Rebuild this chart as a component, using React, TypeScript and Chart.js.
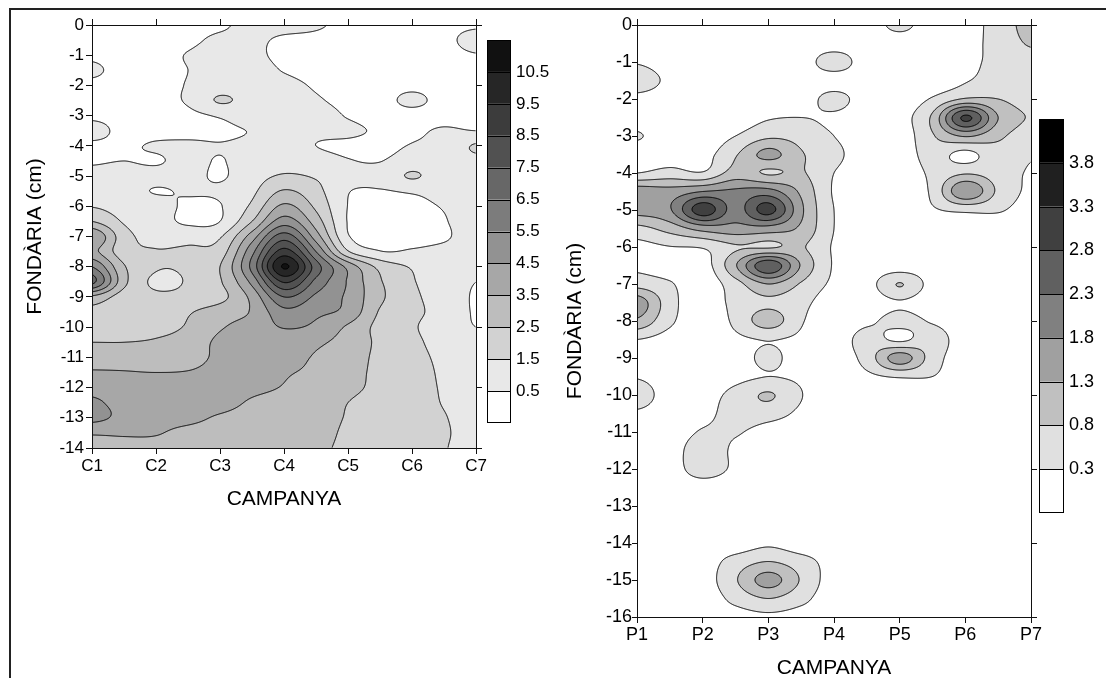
import React, { useEffect, useRef } from 'react';
import { Chart, registerables } from 'chart.js';

Chart.register(...registerables);

const FONT = "'Liberation Sans', Arial, sans-serif";
const AXIS_COLOR = '#111';

// ---- categories / titles ----
const CAMPAIGNS_LEFT = ['C1', 'C2', 'C3', 'C4', 'C5', 'C6', 'C7'];
const CAMPAIGNS_RIGHT = ['P1', 'P2', 'P3', 'P4', 'P5', 'P6', 'P7'];
const X_TITLE = 'CAMPANYA';
const Y_TITLE = 'FONDÀRIA (cm)';
const DEPTH_MIN_LEFT = -14;
const DEPTH_MIN_RIGHT = -16;

// ---- contour levels (colour-bar labels) ----
const LEVELS_LEFT = [0.5, 1.5, 2.5, 3.5, 4.5, 5.5, 6.5, 7.5, 8.5, 9.5, 10.5];
const LEVELS_RIGHT = [0.3, 0.8, 1.3, 1.8, 2.3, 2.8, 3.3, 3.8];

// ---- grid node positions (campaign, depth) ----
const GRID_X_LEFT = [1, 1.5, 2, 2.5, 3, 3.5, 4, 4.5, 5, 5.5, 6, 6.5, 7];
const GRID_X_RIGHT = [1, 1.5, 2, 2.5, 3, 3.5, 4, 4.5, 5, 5.5, 6, 6.5, 7];
const GRID_DEPTH_LEFT = [0, -0.5, -1, -1.5, -2, -2.5, -3, -3.5, -4, -4.5, -5, -5.5, -6, -6.5, -7, -7.5, -8, -8.5, -9, -9.5, -10, -10.5, -11, -11.5, -12, -12.5, -13, -13.5, -14];
const GRID_DEPTH_RIGHT = [0, -0.5, -1, -1.5, -2, -2.5, -3, -3.5, -4, -4.5, -5, -5.5, -6, -6.5, -7, -7.5, -8, -8.5, -9, -9.5, -10, -10.5, -11, -11.5, -12, -12.5, -13, -13.5, -14, -14.5, -15, -15.5, -16];

// ---- measured values, rows = depth, columns = campaign (C1 .. C7, half steps) ----
const LEFT_Z = [
  [0.2, 0.2, 0.2, 0.2, 0.35, 0.8, 0.8, 0.6, 0.3, 0.2, 0.2, 0.3, 0.4],
  [0.2, 0.2, 0.2, 0.3, 0.7, 0.7, 0.35, 0.3, 0.2, 0.2, 0.2, 0.3, 0.8],
  [0.35, 0.2, 0.2, 0.55, 0.9, 0.7, 0.3, 0.2, 0.2, 0.2, 0.2, 0.25, 0.45],
  [0.65, 0.2, 0.2, 0.5, 0.9, 0.9, 0.45, 0.2, 0.15, 0.15, 0.2, 0.2, 0.2],
  [0.3, 0.2, 0.25, 0.55, 1.0, 1.0, 0.8, 0.4, 0.2, 0.2, 0.3, 0.2, 0.2],
  [0.2, 0.2, 0.3, 0.6, 1.6, 1.1, 1.0, 0.6, 0.3, 0.2, 0.7, 0.2, 0.2],
  [0.3, 0.2, 0.2, 0.3, 0.6, 1.0, 1.0, 0.8, 0.45, 0.2, 0.2, 0.2, 0.2],
  [0.9, 0.2, 0.2, 0.2, 0.3, 0.55, 0.8, 0.7, 0.65, 0.4, 0.35, 0.6, 0.5],
  [0.3, 0.35, 0.6, 0.7, 0.55, 0.75, 0.9, 0.5, 0.35, 0.3, 0.55, 0.8, 1.6],
  [0.4, 0.5, 0.4, 0.8, 0.45, 1.0, 1.2, 0.9, 0.55, 0.48, 0.9, 1.0, 1.2],
  [0.8, 0.9, 0.8, 0.8, 0.4, 1.1, 1.6, 1.4, 0.9, 0.8, 1.6, 0.9, 0.8],
  [0.9, 0.85, 0.45, 0.6, 0.65, 1.3, 2.6, 1.8, 0.55, 0.45, 0.6, 0.75, 0.8],
  [1.45, 1.1, 0.9, 0.35, 0.45, 1.7, 3.7, 2.3, 0.48, 0.25, 0.3, 0.55, 0.8],
  [2.5, 1.4, 0.9, 0.35, 0.5, 2.5, 5.0, 3.0, 0.45, 0.2, 0.2, 0.45, 0.9],
  [4.5, 1.9, 1.2, 1.1, 1.4, 4.0, 7.0, 4.0, 0.6, 0.2, 0.25, 0.4, 0.9],
  [3.8, 1.9, 1.55, 1.7, 2.0, 5.2, 8.9, 5.5, 1.6, 0.55, 0.6, 0.7, 0.8],
  [5.5, 2.6, 1.6, 1.7, 2.5, 5.8, 10.6, 7.0, 4.2, 2.2, 1.4, 0.8, 0.6],
  [6.8, 2.8, 1.3, 1.6, 2.4, 4.8, 8.6, 6.2, 4.4, 2.6, 1.6, 0.9, 0.5],
  [3.3, 2.0, 1.7, 1.8, 2.2, 3.8, 6.5, 5.3, 4.3, 2.7, 1.7, 1.1, 0.4],
  [2.2, 2.0, 1.9, 2.4, 3.0, 3.6, 5.2, 4.7, 4.2, 2.4, 1.7, 1.2, 0.4],
  [2.0, 2.1, 2.2, 2.6, 3.4, 3.9, 4.55, 4.3, 3.35, 2.2, 1.6, 1.1, 0.5],
  [2.5, 2.5, 2.6, 2.9, 3.7, 3.9, 4.1, 3.7, 3.1, 2.3, 1.7, 1.2, 0.9],
  [3.0, 3.0, 2.9, 3.1, 3.7, 3.9, 3.9, 3.4, 2.9, 2.3, 1.8, 1.3, 1.0],
  [3.6, 3.55, 3.5, 3.55, 3.8, 3.9, 3.6, 3.3, 2.8, 2.3, 1.9, 1.35, 1.0],
  [4.1, 3.8, 3.8, 3.9, 3.9, 3.7, 3.45, 3.1, 2.7, 2.3, 1.9, 1.4, 1.0],
  [4.7, 4.1, 3.9, 3.9, 3.8, 3.4, 3.2, 2.9, 2.5, 2.2, 1.9, 1.45, 1.1],
  [4.8, 4.2, 3.8, 3.7, 3.4, 3.2, 3.1, 2.8, 2.45, 2.2, 1.9, 1.55, 1.1],
  [3.6, 3.6, 3.55, 3.3, 3.2, 3.1, 3.0, 2.7, 2.4, 2.1, 1.85, 1.6, 1.1],
  [3.2, 3.3, 3.3, 3.2, 3.1, 3.0, 2.9, 2.6, 2.4, 2.1, 1.8, 1.55, 1.1],
];

// rows = depth, columns = campaign (P1 .. P7, half steps)
const RIGHT_Z = [
  [0, 0, 0, 0, 0, 0, 0, 0, 0.45, 0, 0.1, 0.5, 1.0],
  [0, 0, 0, 0, 0, 0, 0, 0, 0, 0, 0.1, 0.5, 0.85],
  [0.25, 0, 0, 0, 0, 0, 0.6, 0, 0, 0, 0.1, 0.5, 0.6],
  [0.7, 0.15, 0, 0, 0, 0, 0, 0, 0, 0, 0.25, 0.6, 0.6],
  [0.1, 0, 0, 0, 0, 0, 0.5, 0, 0, 0.35, 0.85, 0.8, 0.6],
  [0, 0, 0, 0, 0.25, 0.3, 0.2, 0, 0.1, 0.9, 2.9, 1.3, 0.75],
  [0.35, 0, 0, 0.3, 0.7, 0.6, 0.3, 0, 0, 0.75, 1.35, 0.9, 0.55],
  [0, 0, 0.1, 0.75, 1.45, 0.85, 0.45, 0, 0, 0.5, 0.15, 0.6, 0.35],
  [0.3, 0.5, 0.35, 1.0, 0.75, 0.85, 0.3, 0, 0, 0.4, 0.75, 0.55, 0.25],
  [1.6, 1.5, 1.8, 1.9, 2.0, 1.2, 0.25, 0, 0, 0.4, 1.75, 0.7, 0.2],
  [1.5, 1.75, 3.1, 2.1, 3.0, 1.4, 0.3, 0, 0, 0.25, 0.4, 0.35, 0.1],
  [0.65, 1.0, 1.5, 1.6, 1.6, 1.2, 0.3, 0, 0, 0, 0.05, 0.05, 0],
  [0.15, 0.28, 0.35, 0.75, 0.75, 0.85, 0.25, 0, 0, 0, 0, 0, 0],
  [0.2, 0.05, 0.05, 1.25, 2.7, 1.25, 0.25, 0, 0, 0, 0, 0, 0],
  [0.6, 0.35, 0, 0.6, 1.3, 0.75, 0.2, 0.1, 0.82, 0.1, 0, 0, 0],
  [1.6, 0.5, 0, 0.45, 0.7, 0.45, 0, 0, 0.25, 0, 0, 0, 0],
  [1.2, 0.4, 0, 0.4, 1.05, 0.35, 0, 0.2, 0.45, 0.25, 0, 0, 0],
  [0.3, 0.1, 0, 0.2, 0.32, 0.2, 0, 0.5, 0.2, 0.55, 0, 0, 0],
  [0, 0, 0, 0, 0.45, 0, 0, 0.5, 1.55, 0.55, 0, 0, 0],
  [0.25, 0, 0, 0.15, 0.3, 0.2, 0, 0.2, 0.35, 0.3, 0, 0, 0],
  [0.65, 0, 0.1, 0.45, 0.85, 0.32, 0, 0, 0, 0, 0, 0, 0],
  [0.2, 0, 0.15, 0.5, 0.5, 0.2, 0, 0, 0, 0, 0, 0, 0],
  [0, 0, 0.35, 0.35, 0.1, 0, 0, 0, 0, 0, 0, 0, 0],
  [0, 0.05, 0.6, 0.2, 0, 0, 0, 0, 0, 0, 0, 0, 0],
  [0, 0.05, 0.55, 0.2, 0, 0, 0, 0, 0, 0, 0, 0, 0],
  [0, 0, 0.05, 0, 0, 0, 0, 0, 0, 0, 0, 0, 0],
  [0, 0, 0, 0, 0, 0, 0, 0, 0, 0, 0, 0, 0],
  [0, 0, 0, 0, 0, 0, 0, 0, 0, 0, 0, 0, 0],
  [0, 0, 0, 0, 0.2, 0, 0, 0, 0, 0, 0, 0, 0],
  [0, 0, 0.05, 0.5, 0.8, 0.5, 0.1, 0, 0, 0, 0, 0, 0],
  [0, 0, 0.05, 0.75, 1.5, 0.75, 0.05, 0, 0, 0, 0, 0, 0],
  [0, 0, 0, 0.45, 0.8, 0.45, 0, 0, 0, 0, 0, 0, 0],
  [0, 0, 0, 0.1, 0.2, 0.1, 0, 0, 0, 0, 0, 0, 0],
];

// ---- styles ----
const GRAYS_LEFT = ['#ffffff', '#e8e8e8', '#d2d2d2', '#bdbdbd', '#a7a7a7', '#929292', '#7c7c7c', '#676767', '#515151', '#3c3c3c', '#262626', '#111111'];
const GRAYS_RIGHT = ['#ffffff', '#e0e0e0', '#c0c0c0', '#a0a0a0', '#808080', '#606060', '#404040', '#202020', '#000000'];

const LEFT_SPEC = {
  canvasLeft: 0, width: 560, height: 520,
  categories: CAMPAIGNS_LEFT, depthMin: DEPTH_MIN_LEFT,
  gridX: GRID_X_LEFT, gridDepth: GRID_DEPTH_LEFT, z: LEFT_Z,
  levels: LEVELS_LEFT, colors: GRAYS_LEFT,
  leftW: 92, rightW: 84, topH: 25, bottomH: 72,
  tickSize: 17, titleSize: 21, yTickLen: 6, yTickPad: 2, xTickLen: 6, xTickPad: 2,
  yTitlePad: 23, xTitlePad: 8,
  colorbar: { left: 487, width: 24, top: 40, bottom: 423, labelX: 516, fontSize: 17 },
};

const RIGHT_SPEC = {
  canvasLeft: 560, width: 546, height: 690,
  categories: CAMPAIGNS_RIGHT, depthMin: DEPTH_MIN_RIGHT,
  gridX: GRID_X_RIGHT, gridDepth: GRID_DEPTH_RIGHT, z: RIGHT_Z,
  levels: LEVELS_RIGHT, colors: GRAYS_RIGHT,
  leftW: 77, rightW: 75, topH: 25, bottomH: 73,
  tickSize: 18, titleSize: 21, yTickLen: 5, yTickPad: 0, xTickLen: 6, xTickPad: 1,
  yTitlePad: 3, xTitlePad: 9,
  colorbar: { left: 479, width: 25, top: 119, bottom: 513, labelX: 509, fontSize: 18 },
};

// ---- helpers ----
function cr(p0: number, p1: number, p2: number, p3: number, t: number) {
  return p1 + 0.5 * t * (p2 - p0 + t * (2 * p0 - 5 * p1 + 4 * p2 - p3 + t * (3 * (p1 - p2) + p3 - p0)));
}

function bicubic(Z: number[][], fx: number, fy: number) {
  const rows = Z.length, cols = Z[0].length;
  let i = Math.floor(fx), j = Math.floor(fy);
  if (i < 0) i = 0; if (i > cols - 2) i = cols - 2;
  if (j < 0) j = 0; if (j > rows - 2) j = rows - 2;
  let tx = fx - i, ty = fy - j;
  tx = Math.max(0, Math.min(1, tx)); ty = Math.max(0, Math.min(1, ty));
  const im = Math.max(0, i - 1), ip = Math.min(cols - 1, i + 2);
  const r: number[] = [0, 0, 0, 0];
  for (let k = 0; k < 4; k++) {
    const rr = Math.min(rows - 1, Math.max(0, j - 1 + k));
    const row = Z[rr];
    r[k] = cr(row[im], row[i], row[i + 1], row[ip], tx);
  }
  return cr(r[0], r[1], r[2], r[3], ty);
}

function hexToRgb(h: string) {
  const n = parseInt(h.slice(1), 16);
  return [(n >> 16) & 255, (n >> 8) & 255, n & 255];
}

function addContour(ctx: CanvasRenderingContext2D, v: Float32Array, w: number, h: number, L: number, ox: number, oy: number) {
  for (let j = 0; j < h - 1; j++) {
    for (let i = 0; i < w - 1; i++) {
      const a = v[j * w + i], b = v[j * w + i + 1], c = v[(j + 1) * w + i + 1], d = v[(j + 1) * w + i];
      const idx = (a >= L ? 8 : 0) | (b >= L ? 4 : 0) | (c >= L ? 2 : 0) | (d >= L ? 1 : 0);
      if (idx === 0 || idx === 15) continue;
      const x0 = ox + i + 0.5, y0 = oy + j + 0.5;
      const T = [x0 + (L - a) / (b - a), y0];
      const R = [x0 + 1, y0 + (L - b) / (c - b)];
      const B = [x0 + (L - d) / (c - d), y0 + 1];
      const Lf = [x0, y0 + (L - a) / (d - a)];
      const seg = (p: number[], q: number[]) => { ctx.moveTo(p[0], p[1]); ctx.lineTo(q[0], q[1]); };
      const center = (a + b + c + d) / 4;
      switch (idx) {
        case 1: case 14: seg(Lf, B); break;
        case 2: case 13: seg(B, R); break;
        case 3: case 12: seg(Lf, R); break;
        case 4: case 11: seg(T, R); break;
        case 6: case 9: seg(T, B); break;
        case 7: case 8: seg(T, Lf); break;
        case 5:
          if (center >= L) { seg(Lf, T); seg(B, R); } else { seg(Lf, B); seg(T, R); }
          break;
        case 10:
          if (center >= L) { seg(T, R); seg(Lf, B); } else { seg(T, Lf); seg(B, R); }
          break;
      }
    }
  }
}

function makePlugin(spec: any) {
  return {
    id: 'contourField',
    beforeDraw(chart: any) {
      const ctx: CanvasRenderingContext2D = chart.ctx;
      const area = chart.chartArea;
      const xs = chart.scales.x, ys = chart.scales.y;
      const left = Math.round(area.left), top = Math.round(area.top);
      const w = Math.round(area.right) - left, h = Math.round(area.bottom) - top;
      const gx0 = spec.gridX[0], gdx = spec.gridX[1] - spec.gridX[0];
      const gy0 = spec.gridDepth[0], gdy = spec.gridDepth[1] - spec.gridDepth[0];
      const fxs = new Float32Array(w);
      for (let i = 0; i < w; i++) fxs[i] = (xs.getValueForPixel(left + i + 0.5) - gx0) / gdx;
      const vals = new Float32Array(w * h);
      for (let j = 0; j < h; j++) {
        const fy = (ys.getValueForPixel(top + j + 0.5) - gy0) / gdy;
        for (let i = 0; i < w; i++) vals[j * w + i] = bicubic(spec.z, fxs[i], fy);
      }
      const rgb = spec.colors.map(hexToRgb);
      const off = document.createElement('canvas');
      off.width = w; off.height = h;
      const octx = off.getContext('2d')!;
      const img = octx.createImageData(w, h);
      const levels: number[] = spec.levels;
      for (let p = 0; p < w * h; p++) {
        const v = vals[p];
        let band = 0;
        for (let k = 0; k < levels.length; k++) if (v >= levels[k]) band = k + 1;
        const col = rgb[band];
        img.data[p * 4] = col[0]; img.data[p * 4 + 1] = col[1]; img.data[p * 4 + 2] = col[2]; img.data[p * 4 + 3] = 255;
      }
      octx.putImageData(img, 0, 0);
      ctx.save();
      ctx.imageSmoothingEnabled = false;
      ctx.drawImage(off, left, top);
      ctx.beginPath();
      for (const L of levels) addContour(ctx, vals, w, h, L, left, top);
      ctx.strokeStyle = '#000';
      ctx.lineWidth = 1;
      ctx.stroke();
      ctx.restore();
    },
    afterDraw(chart: any) {
      const ctx: CanvasRenderingContext2D = chart.ctx;
      const cb = spec.colorbar;
      const n = spec.levels.length + 1;
      const bh = (cb.bottom - cb.top) / n;
      ctx.save();
      for (let k = 0; k < n; k++) {
        ctx.fillStyle = spec.colors[k];
        ctx.fillRect(cb.left, cb.bottom - (k + 1) * bh, cb.width, bh);
      }
      ctx.strokeStyle = '#000';
      ctx.lineWidth = 1;
      ctx.beginPath();
      for (let k = 0; k < n - 1; k++) {
        const y = Math.round(cb.bottom - (k + 1) * bh) + 0.5;
        ctx.moveTo(cb.left, y); ctx.lineTo(cb.left + cb.width, y);
      }
      ctx.stroke();
      ctx.strokeRect(cb.left + 0.5, Math.round(cb.top) + 0.5, cb.width - 1, Math.round(cb.bottom - cb.top) - 1);
      ctx.fillStyle = '#000';
      ctx.font = `${cb.fontSize}px ${FONT}`;
      ctx.textBaseline = 'middle';
      ctx.textAlign = 'left';
      spec.levels.forEach((lv: number, k: number) => {
        ctx.fillText(String(lv), cb.labelX, cb.bottom - (k + 1) * bh);
      });
      ctx.restore();
    },
  };
}

function makeConfig(spec: any): any {
  const tickFont = { family: FONT, size: spec.tickSize };
  const titleFont = { family: FONT, size: spec.titleSize };
  const gridX = { drawOnChartArea: false, tickLength: spec.xTickLen, color: AXIS_COLOR };
  const gridY = { drawOnChartArea: false, tickLength: spec.yTickLen, color: AXIS_COLOR };
  const border = { display: true, color: AXIS_COLOR, width: 1 };
  const nCat = spec.categories.length;
  return {
    type: 'scatter',
    data: { datasets: [] },
    options: {
      animation: false,
      responsive: false,
      devicePixelRatio: 1,
      events: [],
      layout: { padding: 0 },
      plugins: { legend: { display: false }, tooltip: { enabled: false }, title: { display: false } },
      scales: {
        x: {
          type: 'linear', position: 'bottom', min: 1, max: nCat,
          afterFit: (s: any) => { s.height = spec.bottomH; },
          ticks: {
            stepSize: 1, maxTicksLimit: 100, autoSkip: false, maxRotation: 0, color: '#000', font: tickFont, padding: spec.xTickPad,
            callback: (v: number) => spec.categories[Math.round(v) - 1] ?? '',
          },
          grid: gridX, border,
          title: { display: true, text: X_TITLE, color: '#000', font: titleFont, padding: { top: 0, bottom: spec.xTitlePad } },
        },
        x2: {
          type: 'linear', position: 'top', min: 1, max: nCat,
          afterFit: (s: any) => { s.height = spec.topH; },
          ticks: { display: false, stepSize: 1, maxTicksLimit: 100 },
          grid: gridX, border,
        },
        y: {
          type: 'linear', position: 'left', min: spec.depthMin, max: 0,
          afterFit: (s: any) => { s.width = spec.leftW; },
          ticks: { stepSize: 1, maxTicksLimit: 100, autoSkip: false, color: '#000', font: tickFont, padding: spec.yTickPad },
          grid: gridY, border,
          title: { display: true, text: Y_TITLE, color: '#000', font: titleFont, padding: { top: spec.yTitlePad, bottom: 0 } },
        },
        y2: {
          type: 'linear', position: 'right', min: spec.depthMin, max: 0,
          afterFit: (s: any) => { s.width = spec.rightW; },
          ticks: { display: false, stepSize: 2, maxTicksLimit: 100 },
          grid: { drawOnChartArea: false, tickLength: 6, color: AXIS_COLOR }, border,
        },
      },
    },
    plugins: [makePlugin(spec)],
  };
}

function ContourChart({ spec }: { spec: any }) {
  const ref = useRef<HTMLCanvasElement>(null);
  useEffect(() => {
    const chart = new Chart(ref.current as HTMLCanvasElement, makeConfig(spec));
    return () => chart.destroy();
  }, [spec]);
  return (
    <canvas
      ref={ref}
      width={spec.width}
      height={spec.height}
      style={{ position: 'absolute', left: spec.canvasLeft, top: 0, width: spec.width, height: spec.height }}
    />
  );
}

export default function App() {
  return (
    <div style={{ position: 'absolute', left: 0, top: 0, width: 1106, height: 678, overflow: 'hidden', background: '#fff' }}>
      <div style={{ position: 'absolute', left: 9, top: 8, width: 1300, height: 900, borderLeft: '2px solid #222', borderTop: '2px solid #222' }} />
      <ContourChart spec={LEFT_SPEC} />
      <ContourChart spec={RIGHT_SPEC} />
    </div>
  );
}
